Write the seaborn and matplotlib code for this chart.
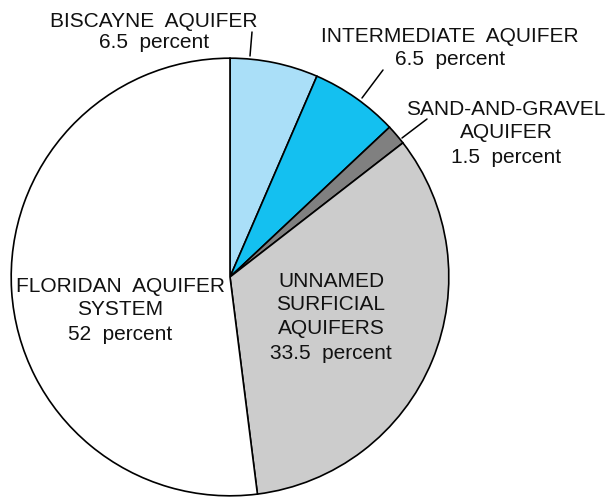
import matplotlib
matplotlib.use("Agg")
import matplotlib.pyplot as plt
import seaborn as sns
from matplotlib.lines import Line2D

sns.set_style("white")
plt.rcParams['font.family'] = ['Liberation Sans', 'DejaVu Sans']

aquifers = [["BISCAYNE  AQUIFER"], ["INTERMEDIATE  AQUIFER"], ["SAND-AND-GRAVEL", "AQUIFER"],
            ["UNNAMED", "SURFICIAL", "AQUIFERS"], ["FLORIDAN  AQUIFER", "SYSTEM"]]
percents = [6.5, 6.5, 1.5, 33.5, 52]
pct_labels = ["6.5  percent", "6.5  percent", "1.5  percent", "33.5  percent", "52  percent"]
colors = ["#aadff8", "#14c0f0", "#808080", "#cccccc", "#ffffff"]

W, H = 613, 502
fig = plt.figure(figsize=(W / 100, H / 100), dpi=100)
cx, cy, r = 230, 278, 221
ax = fig.add_axes([(cx - r) / W, (H - cy - r) / H, 2 * r / W, 2 * r / H])
ax.pie(percents, colors=colors, startangle=90, counterclock=False,
       wedgeprops=dict(edgecolor="black", linewidth=1.2), radius=1)
ax.set_xlim(-1.01, 1.01)
ax.set_ylim(-1.01, 1.01)
ax.set_aspect("auto")
ax.axis("off")

def px(x, y):
    return x / W, 1 - y / H

# text block centers (x) and baselines (y) in pixels
centers_x = [154, 450, 506, 331, 120]
baselines = [[27, 48], [42, 65], [115, 138, 163], [287, 310, 334, 359], [292, 315, 340]]
for name, pl, x, bls in zip(aquifers, pct_labels, centers_x, baselines):
    lines = name + [pl]
    for ln, yb in zip(lines, bls):
        fx, fy = px(x, yb)
        fig.text(fx, fy, ln, ha="center", va="baseline", fontsize=15, color="#111111")

leaders = [((252, 33), (250, 57)), ((383, 71), (362, 99)), ((427, 120), (402, 139))]
for (x0, y0), (x1, y1) in leaders:
    a, b = px(x0, y0)
    c, d = px(x1, y1)
    fig.add_artist(Line2D([a, c], [b, d], color="black", linewidth=1.1,
                          transform=fig.transFigure))

fig.savefig("out.png", dpi=100)
